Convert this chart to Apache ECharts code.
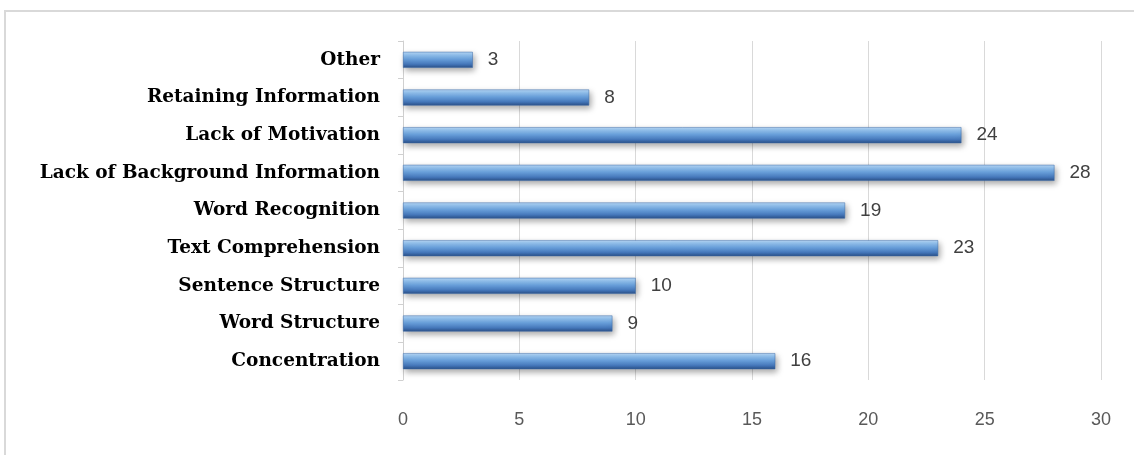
<!DOCTYPE html>
<html>
<head>
<meta charset="utf-8">
<script src="https://cdn.jsdelivr.net/npm/echarts@6/dist/echarts.min.js"></script>
<style>
  html, body { margin: 0; padding: 0; background: #fff; }
  #frame { position: absolute; left: 4px; top: 10px; width: 1140px; height: 460px; border: 2px solid #d9d9d9; box-sizing: border-box; }
  #main { position: absolute; left: 0; top: 0; width: 1134px; height: 455px; }
</style>
</head>
<body>
<div id="frame"></div>
<div id="main"></div>
<script>
// categories top to bottom, as in the picture
const categories = [
    'Other',
    'Retaining Information',
    'Lack of Motivation',
    'Lack of Background Information',
    'Word Recognition',
    'Text Comprehension',
    'Sentence Structure',
    'Word Structure',
    'Concentration'
];
const counts = [3, 8, 24, 28, 19, 23, 10, 9, 16];
const xTicks = [0, 5, 10, 15, 20, 25, 30];

// 初始化图表
const myChart = echarts.init(document.getElementById('main'));

myChart.setOption({
    animation: false,
    grid: {
        left: 403,
        right: 33,
        top: 41,
        bottom: 75
    },
    xAxis: {
        type: 'value',
        min: xTicks[0],
        max: xTicks[xTicks.length - 1],
        interval: 5,
        axisLine: {show: false},
        axisTick: {show: false},
        splitLine: {lineStyle: {color: '#d9d9d9', width: 1}},
        axisLabel: {
            margin: 31,
            color: '#595959',
            fontFamily: 'Liberation Sans',
            fontSize: 18
        }
    },
    yAxis: {
        type: 'category',
        inverse: true,
        data: categories,
        axisLine: {lineStyle: {color: '#d0d0d0', width: 1}},
        axisTick: {show: true, inside: false, length: 5, lineStyle: {color: '#d0d0d0'}},
        axisLabel: {
            margin: 23,
            color: '#000',
            fontFamily: 'DejaVu Serif',
            fontWeight: 'bold',
            fontSize: 18.5
        }
    },
    series: [{
        type: 'bar',
        data: counts,
        barWidth: 16,
        itemStyle: {
            color: new echarts.graphic.LinearGradient(0, 0, 0, 1, [
                {offset: 0, color: '#b8d7f4'},
                {offset: 0.18, color: '#94c2ee'},
                {offset: 0.45, color: '#6aa1dc'},
                {offset: 0.78, color: '#4476b9'},
                {offset: 1, color: '#2a4f86'}
            ]),
            borderColor: '#3a6aa8',
            borderWidth: 0.5,
            shadowColor: 'rgba(0,0,0,0.35)',
            shadowBlur: 6,
            shadowOffsetX: 2,
            shadowOffsetY: 3
        },
        label: {
            show: true,
            position: 'right',
            distance: 15,
            color: '#404040',
            fontFamily: 'Liberation Sans',
            fontSize: 19
        }
    }]
});
</script>
</body>
</html>
